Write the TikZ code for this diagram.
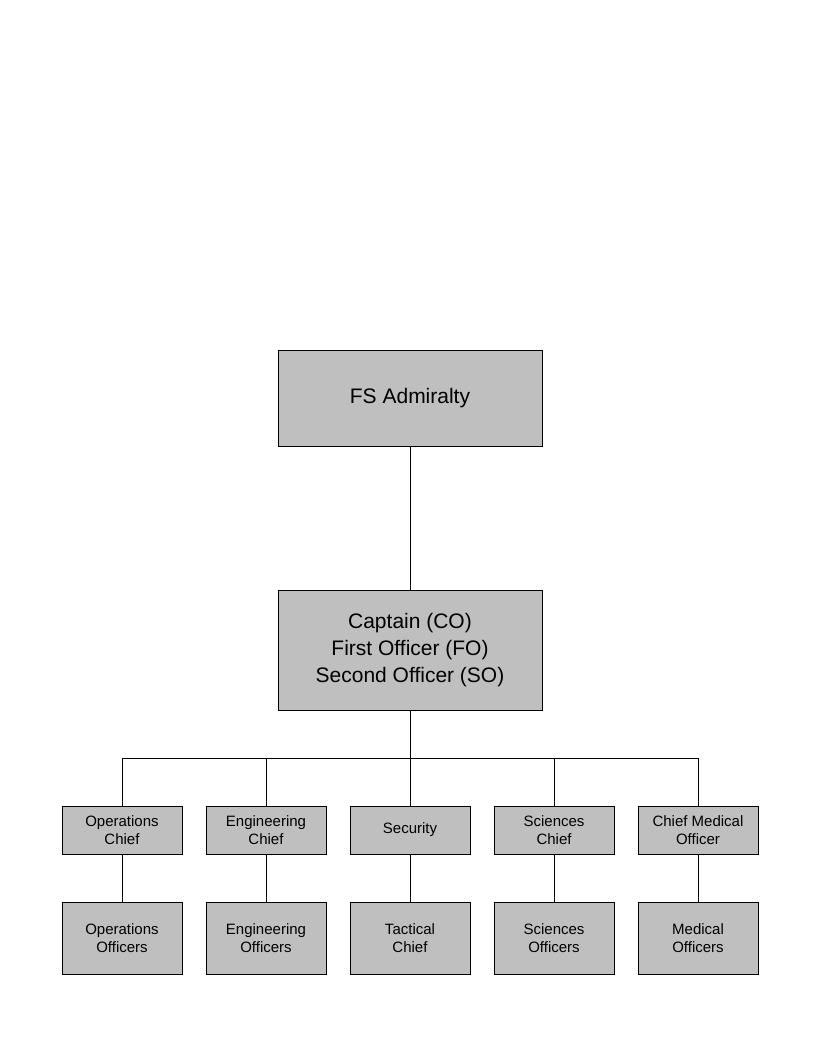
\documentclass[tikz,border=0pt]{standalone}
\usepackage{fontspec}
\setmainfont{Liberation Sans}
\begin{document}
\begin{tikzpicture}[x=1pt,y=-1pt,
  box/.style={draw, fill=black!25, align=center, inner sep=1pt, line width=0.6pt},
  link/.style={draw, line width=0.6pt}]
  \useasboundingbox (0,0) rectangle (816,1056);
  \node[box, minimum width=264pt, minimum height=96pt, font=\fontsize{21}{25}\selectfont] (adm) at (410,398) {FS Admiralty};
  \node[box, minimum width=264pt, minimum height=120pt, font=\fontsize{21}{27}\selectfont] (cap) at (410,650) {Captain (CO)\\First Officer (FO)\\Second Officer (SO)};
  \draw[link] (adm) -- (cap);
  \coordinate (bus) at (410,758);
  \draw[link] (cap) -- (bus);
  \foreach \x/\n/\chief/\off in {122/ops/Operations\\Chief/Operations\\Officers,
      266/eng/Engineering\\Chief/Engineering\\Officers,
      410/sec/Security/Tactical\\Chief/Security\\Officers,
      554/sci/Sciences\\Chief/Sciences\\Officers,
      698/med/Chief Medical\\Officer/Medical\\Officers} {
    \node[box, minimum width=120pt, minimum height=48pt, font=\fontsize{15}{18}\selectfont] (\n c) at (\x,830) {\chief};
    \node[box, minimum width=120pt, minimum height=72pt, font=\fontsize{15}{18}\selectfont] (\n o) at (\x,938) {\off};
    \draw[link] (\x,758) -- (\n c);
    \draw[link] (\n c) -- (\n o);
  }
  \draw[link] (122,758) -- (698,758);
\end{tikzpicture}
\end{document}
